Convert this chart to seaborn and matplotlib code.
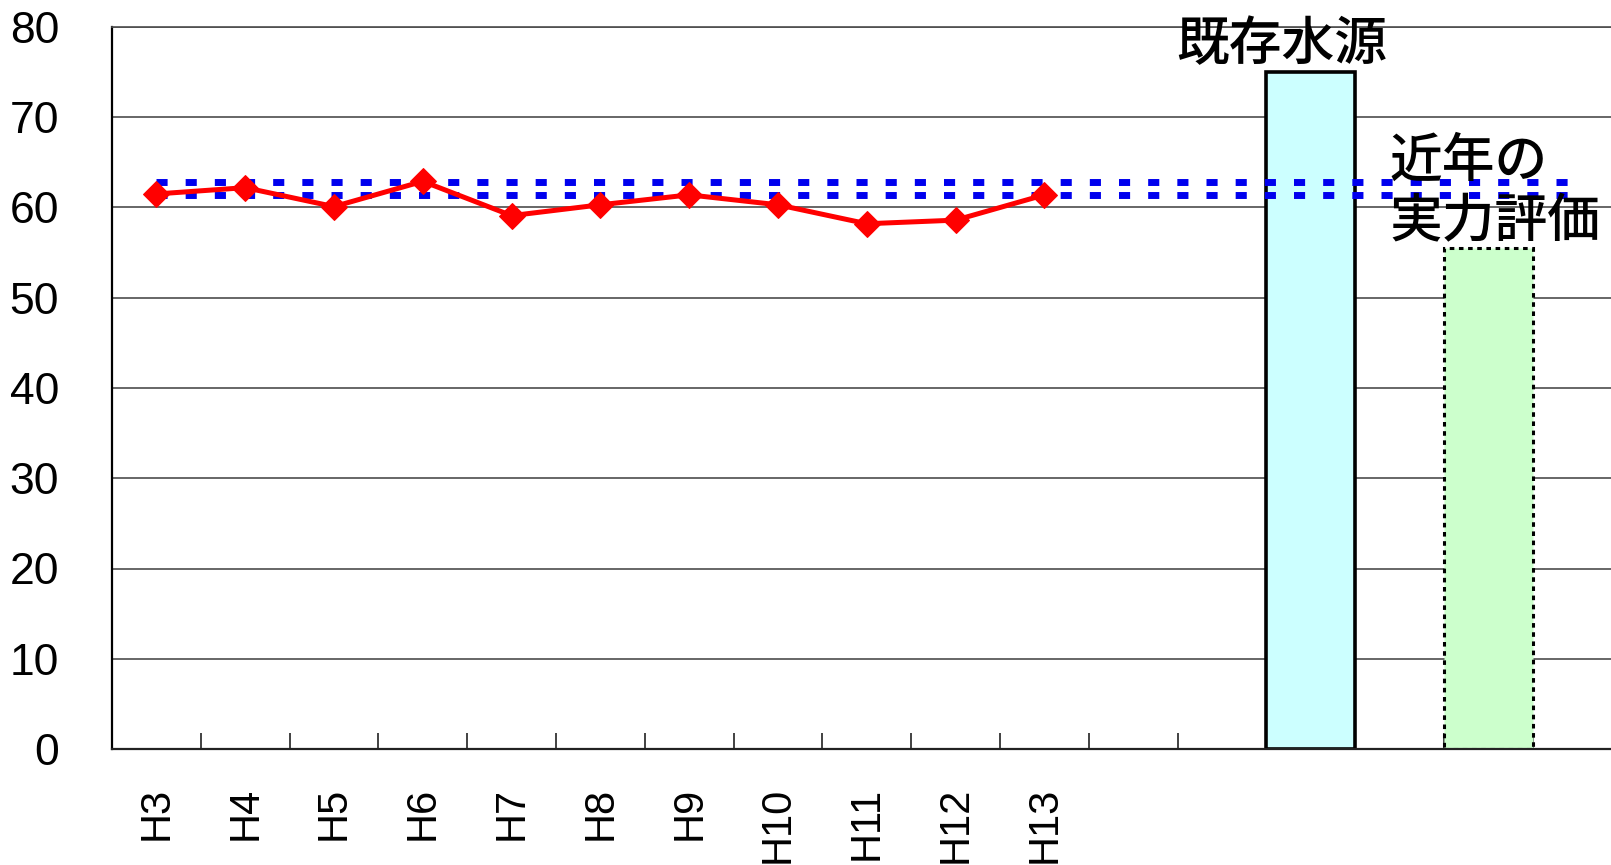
import numpy as np
import seaborn as sns
import matplotlib.pyplot as plt

# yearly values (H3 - H13)
years = ['H3', 'H4', 'H5', 'H6', 'H7', 'H8', 'H9', 'H10', 'H11', 'H12', 'H13']
values = [61.5, 62.2, 60.1, 62.9, 59.1, 60.3, 61.4, 60.3, 58.2, 58.6, 61.4]

# reference (double dotted) line levels
ref_levels = [62.8, 61.4]

# the two comparison bars
bar_names = ['既存水源', '近年の実力評価']
bar_values = [75, 55.5]
bar_colors = ['#ccffff', '#ccffcc']

# category slots along the x axis (blank slots keep the spacing)
slots = years + ['_a', '_b', '既存水源', '_c', '近年の実力評価', '_d']
tick_labels = years + [''] * (len(slots) - len(years))

sns.set_style('white')
plt.rcParams['font.family'] = ['Liberation Sans', 'Noto Sans CJK JP', 'DejaVu Sans']
plt.rcParams['text.color'] = 'black'

fig = plt.figure(figsize=(16.11, 8.65), dpi=100)
ax = fig.add_axes([112 / 1611, 116 / 865, 1 - 112 / 1611, 722 / 865])

# bars
sns.barplot(x=[bar_names[0]], y=[bar_values[0]], order=slots, color=bar_colors[0],
            saturation=1, width=1.0, edgecolor='black', linewidth=2.6, ax=ax, zorder=2)
sns.barplot(x=[bar_names[1]], y=[bar_values[1]], order=slots, color=bar_colors[1],
            saturation=1, width=1.0, edgecolor='black', linewidth=2.2,
            linestyle=(0, (1.5, 1.5)), ax=ax, zorder=2)

# double dotted reference line from the first year to the last slot
ref_x = [0, len(slots) - 1]
for lvl in ref_levels:
    sns.lineplot(x=ref_x, y=[lvl, lvl], color='#0000ee', linewidth=5,
                 dashes=False, ax=ax, zorder=3)
for ln in ax.lines:
    ln.set_linestyle((0, (1.6, 2.6)))

# yearly series
sns.lineplot(x=np.arange(len(years)), y=values, color='#ff0000', linewidth=3.6,
             marker='D', markersize=13, markeredgecolor='#ff0000', sort=False,
             ax=ax, zorder=4)

# labels above the bars
i0 = slots.index(bar_names[0])
ax.text(i0 - 0.33, bar_values[0], '既存水源', ha='center', va='bottom', color='black',
        fontsize=38, fontweight='medium', family=['Noto Sans CJK JP'], zorder=5)
i1 = slots.index(bar_names[1])
ax.text(i1 - 1.11, 61.7, '近年の\n実力評価', ha='left', va='center', color='black',
        fontsize=38, fontweight='medium', linespacing=1.15,
        family=['Noto Sans CJK JP'], zorder=5)

# axes styling
ax.set_ylim(0, 80)
ax.set_xlim(-0.5, (1611 - 112) / 88.8 - 0.5)
ax.set_yticks(range(0, 81, 10))
ax.yaxis.grid(True, color='#4d4d4d', linewidth=1.2)
ax.set_axisbelow(True)
ax.tick_params(axis='y', length=0, pad=38, labelsize=32, labelcolor='black')

ax.set_xticks(np.arange(len(slots)))
ax.set_xticklabels(tick_labels, rotation=90, fontsize=30)
ax.set_xticks(np.arange(len(slots) - 1) + 0.5, minor=True)
ax.tick_params(axis='x', which='major', length=0, pad=27, labelcolor='black')
ax.tick_params(axis='x', which='minor', bottom=True, direction='in', length=11.5,
               width=1.3, color='#333333')
ax.set_xlabel('')
ax.set_ylabel('')

ax.spines['left'].set_color('black')
ax.spines['left'].set_linewidth(1.6)
ax.spines['bottom'].set_color('#222222')
ax.spines['bottom'].set_linewidth(1.6)
ax.spines['top'].set_color('#4d4d4d')
ax.spines['top'].set_linewidth(1.2)
ax.spines['right'].set_visible(False)

fig.savefig('out.png', dpi=100)
